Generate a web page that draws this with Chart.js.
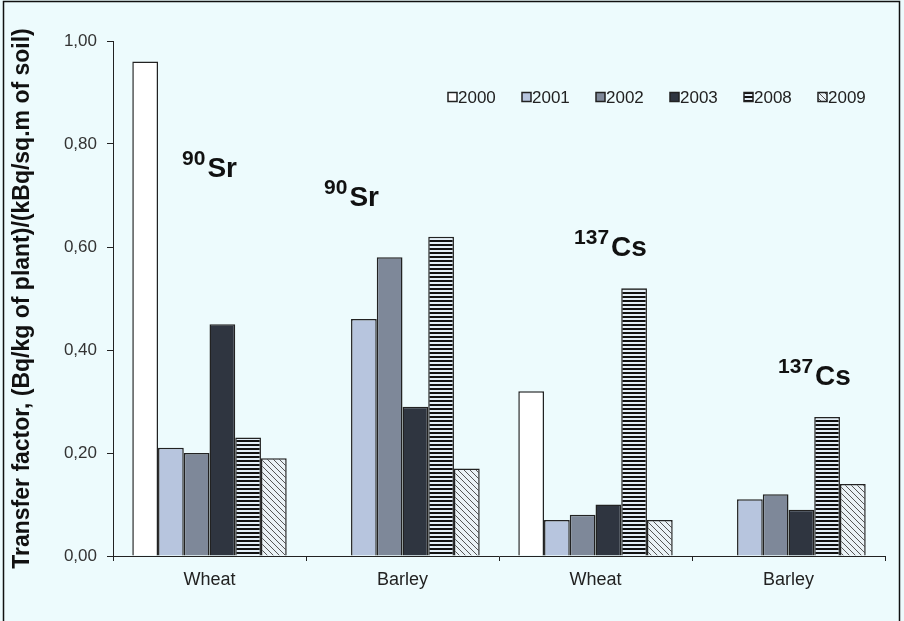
<!DOCTYPE html>
<html>
<head>
<meta charset="UTF-8">
<title>Transfer factor</title>
<script src="https://cdn.jsdelivr.net/npm/chart.js"></script>
<style>
  html, body { margin: 0; padding: 0; background: #edfbfd; }
  #wrap { width: 904px; height: 621px; position: relative; }
</style>
</head>
<body>
<div id="wrap"><canvas id="tfChart"></canvas></div>
<script>
// data
const crops = ['Wheat', 'Barley', 'Wheat', 'Barley'];
const years = ['2000', '2001', '2002', '2003', '2008', '2009'];
const tf2000 = [0.96, null, 0.32, null];
const tf2001 = [0.21, 0.46, 0.07, 0.11];
const tf2002 = [0.20, 0.58, 0.08, 0.12];
const tf2003 = [0.45, 0.29, 0.10, 0.09];
const tf2008 = [0.23, 0.62, 0.52, 0.27];
const tf2009 = [0.19, 0.17, 0.07, 0.14];
const isoMass = ['90', '90', '137', '137'];
const isoElem = ['Sr', 'Sr', 'Cs', 'Cs'];

// label placement (value level + shift from category centre)
const isoLevel = [0.735, 0.68, 0.583, 0.332];
const isoShift = [0, -51, 15, 26];

const font = 'Arial, "Liberation Sans", sans-serif';

function stripes() {
  const c = document.createElement('canvas');
  c.width = 4; c.height = 4;
  const g = c.getContext('2d');
  g.fillStyle = '#e4eef7';
  g.fillRect(0, 0, 4, 4);
  g.fillStyle = '#111';
  g.fillRect(0, 0, 4, 2);
  return g.createPattern(c, 'repeat');
}

function hatch() {
  const c = document.createElement('canvas');
  c.width = 6; c.height = 6;
  const g = c.getContext('2d');
  g.fillStyle = '#eaf2f6';
  g.fillRect(0, 0, 6, 6);
  g.strokeStyle = '#555';
  g.lineWidth = 1;
  g.beginPath();
  g.moveTo(-1, -1); g.lineTo(7, 7);
  g.moveTo(-4, 2); g.lineTo(4, 10);
  g.moveTo(2, -4); g.lineTo(10, 4);
  g.stroke();
  return g.createPattern(c, 'repeat');
}

const fills = ['#ffffff', '#b7c5de', '#7e8899', '#2f3540', stripes(), hatch()];
const series = [tf2000, tf2001, tf2002, tf2003, tf2008, tf2009];

const frame = {
  id: 'frame',
  beforeDraw(chart) {
    const ctx = chart.ctx;
    ctx.save();
    ctx.fillStyle = '#edfbfd';
    ctx.fillRect(0, 0, chart.width, chart.height);
    ctx.strokeStyle = '#111';
    ctx.lineWidth = 1.5;
    ctx.beginPath();
    ctx.moveTo(3.5, chart.height + 5);
    ctx.lineTo(3.5, 1.5);
    ctx.lineTo(899.5, 1.5);
    ctx.lineTo(899.5, chart.height + 5);
    ctx.stroke();
    ctx.restore();
  }
};

// legend drawn inside the plot, one row at the top right
const yearLegend = {
  id: 'yearLegend',
  afterDraw(chart) {
    const ctx = chart.ctx;
    const area = chart.chartArea;
    let x = area.left + 335;
    const yc = area.top + 56;
    ctx.save();
    ctx.font = '17px ' + font;
    ctx.textBaseline = 'middle';
    chart.data.datasets.forEach(ds => {
      ctx.fillStyle = ds.backgroundColor;
      ctx.fillRect(x, yc - 4.5, 9, 9);
      ctx.strokeStyle = '#222';
      ctx.lineWidth = 1.5;
      ctx.strokeRect(x, yc - 4.5, 9, 9);
      ctx.fillStyle = '#222';
      ctx.fillText(ds.label, x + 10, yc + 1);
      x += 74;
    });
    ctx.restore();
  }
};

const isotopes = {
  id: 'isotopes',
  afterDatasetsDraw(chart) {
    const ctx = chart.ctx;
    const x = chart.scales.x, y = chart.scales.y;
    ctx.save();
    ctx.fillStyle = '#111';
    ctx.textBaseline = 'alphabetic';
    crops.forEach((c, i) => {
      ctx.font = 'bold 21px ' + font;
      const wm = ctx.measureText(isoMass[i]).width;
      ctx.font = 'bold 28px ' + font;
      const we = ctx.measureText(isoElem[i]).width;
      const cx = x.getPixelForValue(i) + isoShift[i];
      const by = y.getPixelForValue(isoLevel[i]);
      const left = cx - (wm + we + 2) / 2;
      ctx.font = 'bold 21px ' + font;
      ctx.fillText(isoMass[i], left, by - 12);
      ctx.font = 'bold 28px ' + font;
      ctx.fillText(isoElem[i], left + wm + 2, by);
    });
    ctx.restore();
  }
};

new Chart(document.getElementById('tfChart'), {
  type: 'bar',
  data: {
    labels: crops,
    datasets: years.map((yr, i) => ({
      label: yr,
      data: series[i],
      backgroundColor: fills[i],
      borderColor: '#222',
      borderWidth: 1.5,
      categoryPercentage: 0.8,
      barPercentage: 1.0
    }))
  },
  options: {
    responsive: true,
    maintainAspectRatio: false,
    animation: false,
    layout: { padding: { top: 41, left: 3, right: 19, bottom: 25 } },
    plugins: {
      tooltip: { enabled: false },
      legend: { display: false }
    },
    scales: {
      x: {
        grid: { drawOnChartArea: false, tickLength: 5, color: '#222' },
        border: { color: '#222', width: 1 },
        ticks: { color: '#222', padding: 8, font: { family: font, size: 18 } },
        afterFit(scale) { scale.height = 40; }
      },
      y: {
        min: 0,
        max: 1,
        grid: { drawOnChartArea: false, tickLength: 6, color: '#222' },
        border: { color: '#222', width: 1 },
        ticks: {
          stepSize: 0.2,
          padding: 10,
          color: '#333',
          font: { family: font, size: 17 },
          callback: v => v.toFixed(2).replace('.', ',')
        },
        title: {
          display: true,
          text: 'Transfer factor, (Bq/kg of plant)/(kBq/sq.m of soil)',
          color: '#111',
          font: { family: font, size: 23, weight: 'bold' },
          padding: { top: 6, bottom: 0 }
        },
        afterFit(scale) { scale.width = 110; }
      }
    }
  },
  plugins: [frame, yearLegend, isotopes]
});
</script>
</body>
</html>
